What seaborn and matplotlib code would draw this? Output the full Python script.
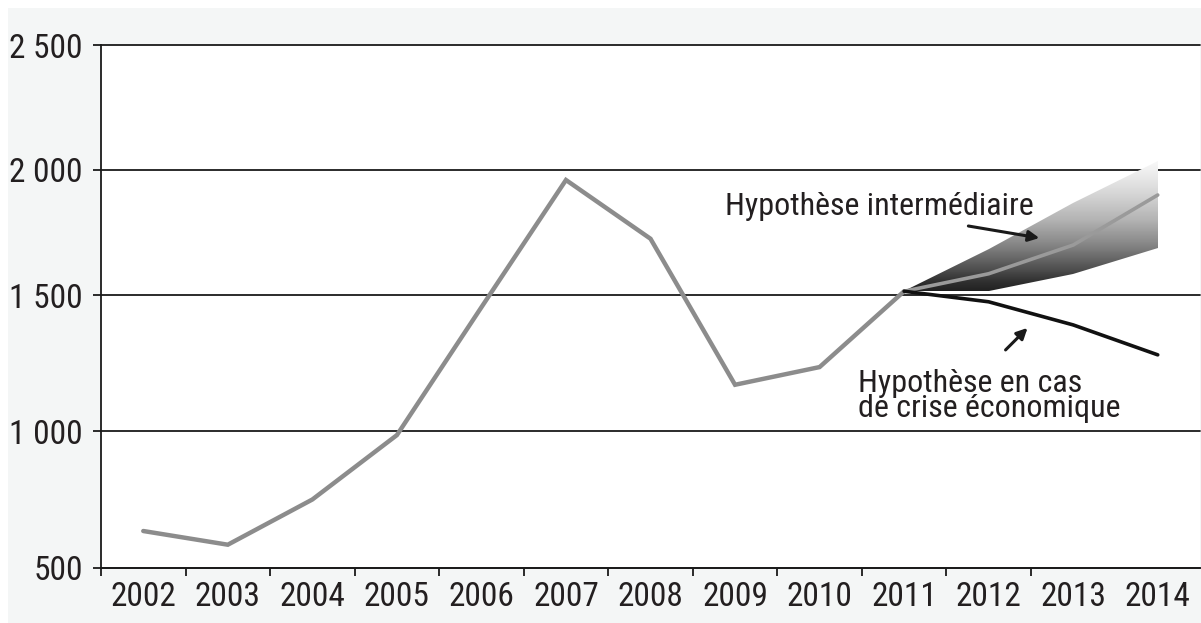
import numpy as np
import pandas as pd
import matplotlib
matplotlib.use("Agg")
import matplotlib.pyplot as plt
import matplotlib.font_manager as fm
from matplotlib.patches import Rectangle
import seaborn as sns

# ---------------- data ----------------
years = [2002, 2003, 2004, 2005, 2006, 2007, 2008, 2009, 2010, 2011, 2012, 2013, 2014]
hist_years = [2002, 2003, 2004, 2005, 2006, 2007, 2008, 2009, 2010, 2011]
hist_values = [635, 585, 750, 985, 1455, 1960, 1725, 1170, 1235, 1515]
proj_years = [2011, 2012, 2013, 2014]
mid_values = [1515, 1585, 1700, 1900]
upper_values = [1515, 1685, 1870, 2035]
lower_values = [1515, 1515, 1585, 1688]
crisis_values = [1515, 1475, 1390, 1280]
y_ticks = [500, 1000, 1500, 2000, 2500]
y_tick_labels = ["500", "1 000", "1 500", "2 000", "2 500"]
label_mid = "Hypothèse intermédiaire"
label_crisis = "Hypothèse en cas\nde crise économique"

# ---------------- style ----------------
sns.set_theme(style="white")
names = {f.name for f in fm.fontManager.ttflist}
if "Liberation Sans Narrow" in names:
    fam, fsize, asize = ["Liberation Sans Narrow", "DejaVu Sans"], 24, 24
elif "Roboto Condensed" in names:
    fam, fsize, asize = ["Roboto Condensed", "DejaVu Sans"], 24, 23
else:
    fam, fsize, asize = ["Liberation Sans", "DejaVu Sans"], 20, 20
plt.rcParams["font.family"] = fam
TXT = "#231f20"

W, H = 1201, 623
fig = plt.figure(figsize=(W / 100, H / 100), dpi=100, facecolor="white")
fig.add_artist(Rectangle((8 / W, 0), 1 - 8 / W, 1 - 8 / H, transform=fig.transFigure,
                         facecolor="#f4f6f6", edgecolor="none", zorder=-10))
ax = fig.add_axes([101 / W, 1 - 568 / H, (1200 - 101) / W, (568 - 45) / H])
ax.set_facecolor("white")

# piecewise-linear vertical scale (as drawn in the source chart)
_v = np.array([-20000, 500, 1000, 1500, 2000, 2500, 20000], float)
_p = np.array([-20500 * 137 / 500, 0, 137, 273, 398, 523, 523 + 17500 * 125 / 500], float)
def fwd(v):
    return np.interp(v, _v, _p)
def inv(p):
    return np.interp(p, _p, _v)
ax.set_yscale("function", functions=(fwd, inv))

# historical line
sns.lineplot(x=hist_years, y=hist_values, ax=ax, color="#8c8c8c", lw=3.2,
             solid_joinstyle="miter", zorder=4)

# gradient band
poly = ax.fill_between(proj_years, lower_values, upper_values, facecolor="none",
                       edgecolor="none")
gx = np.linspace(2011, 2014, 60)
gy = np.linspace(1490, 2060, 300)
GX, GY = np.meshgrid(gx, gy)
shade = np.interp(GY, [1500, 1560, 1600, 1700, 1800, 1900, 2000, 2060],
                  [0.10, 0.20, 0.30, 0.52, 0.70, 0.83, 0.94, 0.99])
mesh = ax.pcolormesh(GX, GY, shade, cmap="gray", vmin=0, vmax=1, shading="auto", zorder=3)
mesh.set_clip_path(poly.get_paths()[0], poly.get_transform())

sns.lineplot(x=proj_years, y=mid_values, ax=ax, color="#9a9a9a", lw=2.6, zorder=5)
sns.lineplot(x=proj_years, y=crisis_values, ax=ax, color="#111111", lw=2.6, zorder=5)

# axes / grid
ax.set_xlim(2001.5, 2014.5)
ax.set_ylim(500, 2500)
for v in y_ticks:
    ax.axhline(v, color="#1a1a1a", lw=1.3, zorder=2, clip_on=False)
for s in ["top", "right"]:
    ax.spines[s].set_visible(False)
for s in ["left", "bottom"]:
    ax.spines[s].set_color("#1a1a1a")
    ax.spines[s].set_linewidth(1.3)

ax.set_yticks(y_ticks)
ax.set_yticklabels(y_tick_labels)
ax.set_xticks(years)
ax.set_xticklabels([str(y) for y in years])
ax.set_xticks([y - 0.5 for y in years[:-1]], minor=True)
ax.tick_params(axis="y", which="major", length=6, width=1.3, color="#1a1a1a",
               direction="out", pad=7, labelsize=fsize, labelcolor=TXT, left=True)
ax.tick_params(axis="x", which="major", length=0, pad=9, labelsize=fsize, labelcolor=TXT)
ax.tick_params(axis="x", which="minor", length=6, width=1.3, color="#1a1a1a",
               direction="out", bottom=True)
ax.set_xlabel("")
ax.set_ylabel("")

# annotations
ax.text(2008.88, 1820, label_mid, fontsize=asize, color=TXT, ha="left", va="baseline", zorder=6)
ax.text(2010.45, 1051, label_crisis, fontsize=asize, color=TXT, ha="left", va="baseline",
        linespacing=0.85, zorder=6)
arrow = dict(arrowstyle="-|>", color="#1a1a1a", lw=2.2, mutation_scale=16,
             shrinkA=0, shrinkB=0)
ax.annotate("", xy=(2012.60, 1728), xytext=(2011.76, 1776), arrowprops=arrow, zorder=6)
ax.annotate("", xy=(2012.46, 1379), xytext=(2012.20, 1298), arrowprops=arrow, zorder=6)

fig.savefig("out.png", dpi=100, facecolor="white")
